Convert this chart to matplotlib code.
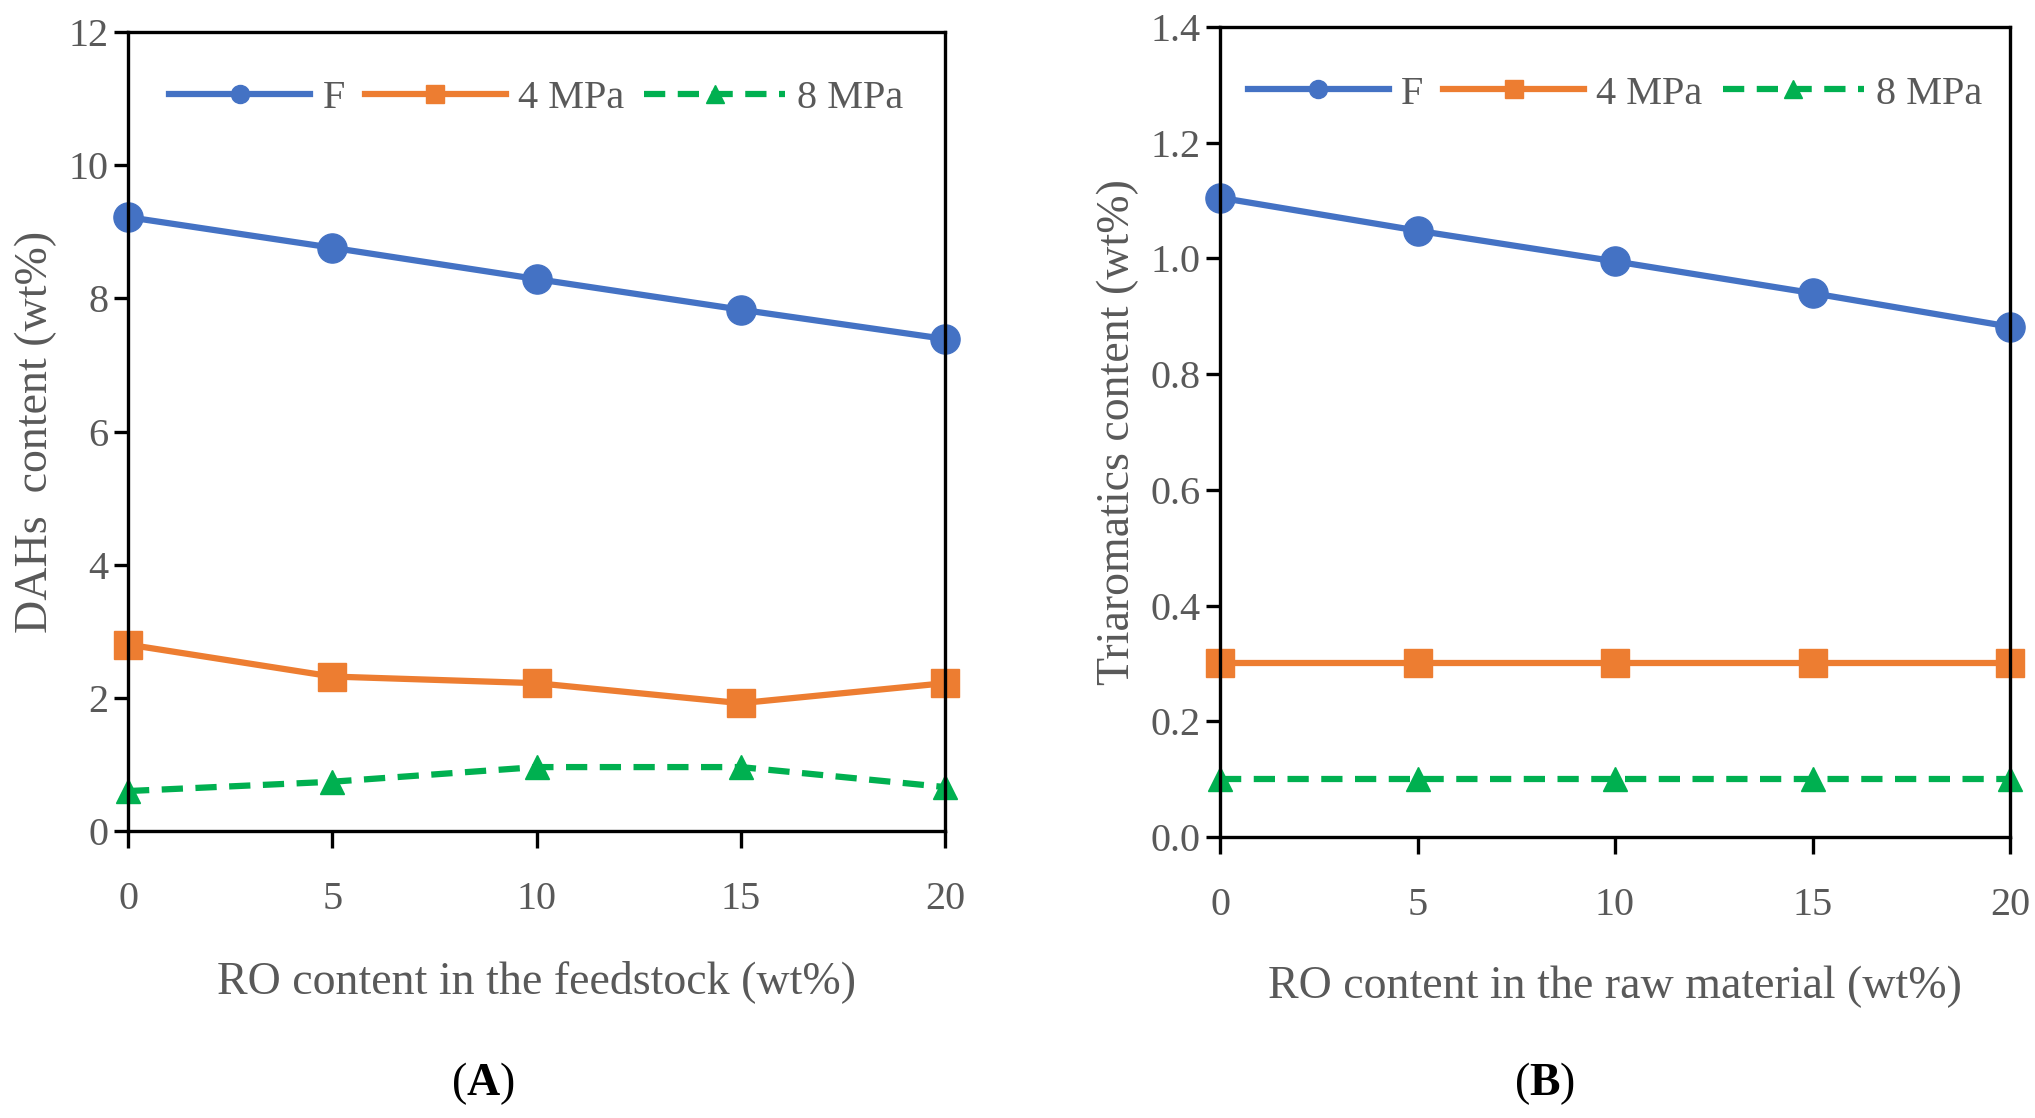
import matplotlib.pyplot as plt

ro = [0, 5, 10, 15, 20]

dahs_f = [9.22, 8.76, 8.29, 7.83, 7.39]
dahs_4 = [2.80, 2.32, 2.22, 1.92, 2.22]
dahs_8 = [0.60, 0.74, 0.96, 0.96, 0.66]

tri_f = [1.105, 1.048, 0.995, 0.940, 0.882]
tri_4 = [0.30, 0.30, 0.30, 0.30, 0.30]
tri_8 = [0.10, 0.10, 0.10, 0.10, 0.10]

series_names = ["F", "4 MPa", "8 MPa"]

BLUE = "#4472C4"
ORANGE = "#ED7D31"
GREEN = "#00B050"
GREY = "#595959"

plt.rcParams["font.family"] = ["Liberation Serif", "DejaVu Serif"]
plt.rcParams["mathtext.fontset"] = "custom"
plt.rcParams["mathtext.rm"] = "Liberation Serif"
plt.rcParams["mathtext.bf"] = "Liberation Serif:bold"


def draw_panel(ax, ys, ylim, yticks, ytick_fmt, ylabel, xlabel):
    styles = [
        dict(color=BLUE, marker="o", linestyle="-", markersize=21),
        dict(color=ORANGE, marker="s", linestyle="-", markersize=20),
        dict(color=GREEN, marker="^", linestyle=(0, (3.4, 2.0)), markersize=17),
    ]
    for y, name, st in zip(ys, series_names, styles):
        ax.plot(ro, y, label=name, linewidth=4.5, clip_on=False, **st)

    ax.set_xlim(0, 20)
    ax.set_ylim(*ylim)
    ax.set_xticks(ro)
    ax.set_yticks(yticks)
    ax.set_yticklabels([ytick_fmt.format(v) for v in yticks])
    for side in ["left", "right", "top", "bottom"]:
        ax.spines[side].set_linewidth(2.4)
        ax.spines[side].set_color("black")
    ax.tick_params(axis="both", direction="out", width=2.4, labelsize=29,
                   labelcolor=GREY)
    ax.tick_params(axis="x", length=12, pad=24)
    ax.tick_params(axis="y", length=10, pad=4)
    ax.set_ylabel(ylabel, fontsize=33, color=GREY, labelpad=8)
    ax.set_xlabel(xlabel, fontsize=33, color=GREY, labelpad=30)

    leg = ax.legend(loc="upper center", ncol=3, frameon=False, fontsize=29,
                    handlelength=3.5, handletextpad=0.3, columnspacing=0.5,
                    bbox_to_anchor=(0.5, 0.985), labelcolor=GREY)
    for h in leg.legend_handles:
        h.set_markersize(13)


fig = plt.figure(figsize=(20.35, 11.18), dpi=100)
ax_a = fig.add_axes([128 / 2035, 1 - 831 / 1118, 817 / 2035, 799 / 1118])
ax_b = fig.add_axes([1220 / 2035, 1 - 837 / 1118, 790 / 2035, 810 / 1118])

draw_panel(ax_a, [dahs_f, dahs_4, dahs_8], (0, 12), [0, 2, 4, 6, 8, 10, 12],
           "{:g}", "DAHs  content (wt%)", "RO content in the feedstock (wt%)")
draw_panel(ax_b, [tri_f, tri_4, tri_8], (0, 1.4),
           [0, 0.2, 0.4, 0.6, 0.8, 1.0, 1.2, 1.4], "{:.1f}",
           "Triaromatics content (wt%)", "RO content in the raw material (wt%)")

fig.text(483 / 2035, 1 - 1084 / 1118, r"($\mathbf{A}$)", fontsize=33,
         ha="center", va="center")
fig.text(1545 / 2035, 1 - 1084 / 1118, r"($\mathbf{B}$)", fontsize=33,
         ha="center", va="center")

fig.savefig("out.png", dpi=100)
